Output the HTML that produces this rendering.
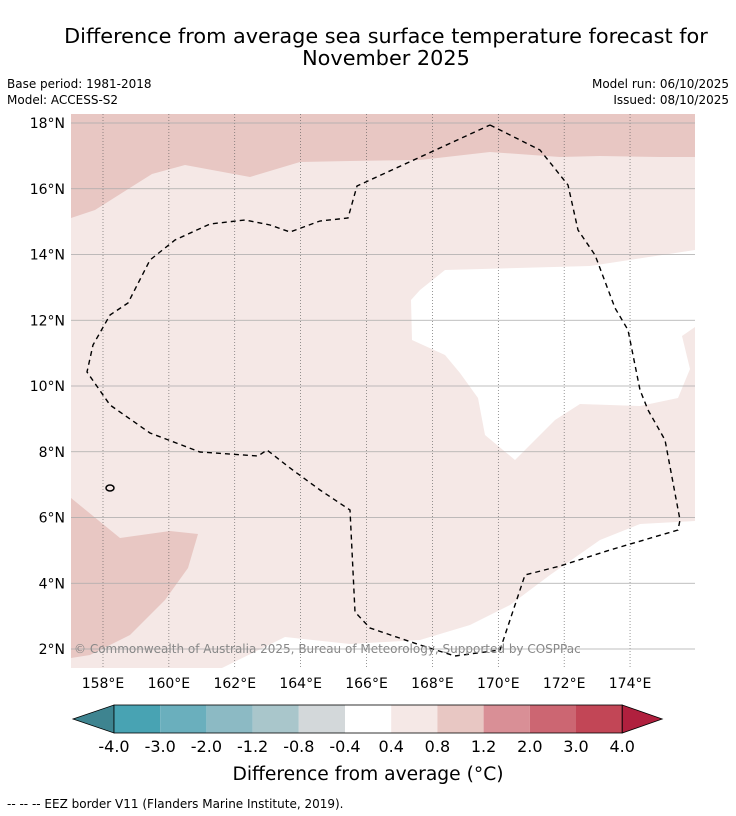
<!DOCTYPE html>
<html><head><meta charset="utf-8"><style>
body{margin:0;background:#fff;}
svg{display:block;font-family:"DejaVu Sans","Liberation Sans",sans-serif;}
</style></head><body>
<svg id="s" width="736" height="816" viewBox="0 0 736 816">
<text x="386" y="43" font-size="20.8" text-anchor="middle">Difference from average sea surface temperature forecast for</text>
<text x="386" y="65" font-size="20.8" text-anchor="middle">November 2025</text>
<text x="7" y="88" font-size="12">Base period: 1981-2018</text>
<text x="7" y="104" font-size="12">Model: ACCESS-S2</text>
<text x="729" y="88" font-size="12" text-anchor="end">Model run: 06/10/2025</text>
<text x="729" y="104" font-size="12" text-anchor="end">Issued: 08/10/2025</text>
<g id="map">
<rect x="71" y="114" width="624" height="554" fill="#f5e8e6"/>
<polygon fill="#e8c7c3" points="71,114 695,114 695,157 660,157 600,156 560,157 490,152 420,160 350,161 300,162 250,177 185,165 152,174 95,210 71,218"/>
<polygon fill="#e8c7c3" points="71,498 120,538 170,531 198,534 188,568 165,600 130,635 90,655 71,658"/>
<polygon fill="#fff" points="445,270 590,266 695,250 695,327 682,336 690,369 678,398 640,406 580,404 555,420 515,460 485,435 478,398 460,373 445,355 412,340 411,300 420,290"/>
<polygon fill="#fff" points="222,668 285,637 350,644 420,640 470,625 510,605 550,575 600,540 640,524 695,521 695,668"/>
<g id="grid"></g>
<polyline fill="none" stroke="#000" stroke-width="1.4" stroke-dasharray="5,4" points="490,125 540,150 568,185 578,230 595,255 615,308 628,330 640,390 648,410 665,440 680,520 678,530 610,550 560,566 525,575 500,650 455,656 420,645 370,628 355,612 350,510 320,490 290,468 267,450 258,456 200,452 150,433 110,405 87,372 93,345 110,315 128,303 150,260 175,240 210,224 245,220 270,225 290,232 320,221 348,218 357,186 490,125"/>
<ellipse cx="110" cy="488" rx="4" ry="3" fill="none" stroke="#000" stroke-width="1.5"/>
<text x="74" y="653" font-size="12" fill="#888">© Commonwealth of Australia 2025, Bureau of Meteorology, Supported by COSPPac</text>
</g>
<g id="axes"></g>
<g id="cbar"></g>
<text x="368" y="780" font-size="18.7" text-anchor="middle">Difference from average (°C)</text>
<text x="7" y="808" font-size="12">--  --  -- EEZ border V11 (Flanders Marine Institute, 2019).</text>
</svg>
<script>
const lonTicks=[158,160,162,164,166,168,170,172,174];
const latTicks=[2,4,6,8,10,12,14,16,18];
const cbarLabels=["-4.0","-3.0","-2.0","-1.2","-0.8","-0.4","0.4","0.8","1.2","2.0","3.0","4.0"];
const cbarColors=["#48a3b3","#6aafbd","#8cbac4","#a9c6cb","#d3d8da","#ffffff","#f5e8e6","#e8c7c3","#d98f96","#cc6672","#c24656"];
const NS="http://www.w3.org/2000/svg";
const X=lon=>103+(lon-158)*32.94, Y=lat=>649-(lat-2)*32.875;
function mk(t,a,p){const e=document.createElementNS(NS,t);for(const k in a)e.setAttribute(k,a[k]);p.appendChild(e);return e;}
const g=document.getElementById('grid'),ax=document.getElementById('axes'),cb=document.getElementById('cbar');
lonTicks.forEach(l=>{
 const ln=mk('line',{x1:X(l),x2:X(l),y1:114,y2:668,stroke:'#555','stroke-width':0.6,'stroke-dasharray':'1,2'},g);
 
 
 const t=mk('text',{x:X(l),y:688,'font-size':14,'text-anchor':'middle'},ax);t.textContent=l+'°E';
 
 
});
latTicks.forEach(l=>{
 const ln=mk('line',{x1:71,x2:695,y1:Y(l),y2:Y(l),stroke:'#aaa','stroke-width':0.8},g);
 
 
 const t=mk('text',{x:65,y:Y(l)+5,'font-size':14,'text-anchor':'end'},ax);t.textContent=l+'°N';
 
 
});
const x0=114,w=46.2,y0=705,h=28;
const lt=mk('polygon',{points:`73,${y0+h/2} ${x0},${y0} ${x0},${y0+h}`,fill:'#3e8490',stroke:'#000','stroke-width':0.8},cb);


cbarColors.forEach((c,i)=>{
 const r=mk('rect',{x:x0+i*w,y:y0,width:w,height:h,fill:c},cb);
 
 
});
const xe=x0+cbarColors.length*w;
const rt=mk('polygon',{points:`${xe},${y0} ${xe+40},${y0+h/2} ${xe},${y0+h}`,fill:'#b0203e',stroke:'#000','stroke-width':0.8},cb);


mk('rect',{x:x0,y:y0,width:xe-x0,height:h,fill:'none',stroke:'#000','stroke-width':0.8},cb);
cbarLabels.forEach((s,i)=>{
 const t=mk('text',{x:x0+i*w,y:752,'font-size':16,'text-anchor':'middle'},cb);t.textContent=s;
 
 
});
</script>
</body></html>
